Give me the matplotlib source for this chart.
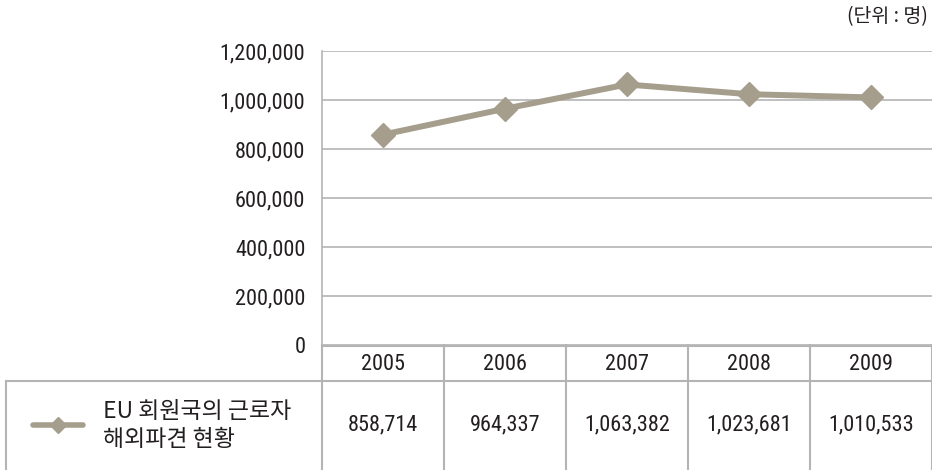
import matplotlib
matplotlib.use("Agg")
import matplotlib.pyplot as plt
from matplotlib.lines import Line2D
from matplotlib.ticker import FuncFormatter

years = ["2005", "2006", "2007", "2008", "2009"]
workers = [858714, 964337, 1063382, 1023681, 1010533]
series_label = ["EU 회원국의 근로자", "해외파견 현황"]
unit_label = "(단위 : 명)"
y_ticks = [0, 200000, 400000, 600000, 800000, 1000000, 1200000]

LINE_COLOR = "#a59e8c"
GRID_COLOR = "#b4b4b4"
TEXT_COLOR = "#231f20"
NUM_FONT = ["Roboto Condensed", "Archivo Narrow", "DejaVu Sans"]
KR_FONT = ["Noto Sans CJK KR", "DejaVu Sans"]

W, H = 932, 470


def fx(px):
    return px / W


def fy(py):
    return 1 - py / H


def main():
    fig = plt.figure(figsize=(W / 100, H / 100), dpi=100)

    # plot area in pixels: x 322..932, y 51..345
    left, right, top, bottom = 322, 932, 51, 345
    ax = fig.add_axes([fx(left), fy(bottom), fx(right - left), (bottom - top) / H])
    x = list(range(len(years)))
    ax.plot(x, workers, color=LINE_COLOR, lw=4.3, marker="D", ms=12,
            mfc=LINE_COLOR, mec=LINE_COLOR, zorder=3, clip_on=False)
    ax.set_xlim(-0.5, len(years) - 0.5)
    ax.set_ylim(0, 1200000)
    ax.set_yticks(y_ticks)
    ax.yaxis.set_major_formatter(FuncFormatter(lambda v, p: f"{int(v):,}"))
    ax.set_xticks([])
    ax.grid(axis="y", color=GRID_COLOR, lw=1.2)
    ax.set_axisbelow(True)
    for s in ["top", "right", "bottom"]:
        ax.spines[s].set_visible(False)
    ax.spines["left"].set_color(GRID_COLOR)
    ax.spines["left"].set_linewidth(1.2)
    ax.tick_params(axis="y", length=0, pad=12, labelsize=16, labelcolor=TEXT_COLOR)
    for lab in ax.get_yticklabels():
        lab.set_family(NUM_FONT)

    # data table below the plot
    col_w = (right - left) / len(years)
    head_top, head_bot, row_bot = 345, 381, 470

    def hline(x0, x1, y):
        fig.add_artist(Line2D([fx(x0), fx(x1)], [fy(y), fy(y)], color=GRID_COLOR, lw=1.5))

    def vline(x0, y0, y1):
        fig.add_artist(Line2D([fx(x0), fx(x0)], [fy(y0), fy(y1)], color=GRID_COLOR, lw=1.5))

    hline(left, right, head_top + 1)
    hline(6, right, head_bot)
    vline(6, head_bot, row_bot)
    for i in range(len(years) + 1):
        vline(left + i * col_w, head_top, row_bot)

    for i, (yr, val) in enumerate(zip(years, workers)):
        cx = left + (i + 0.5) * col_w
        fig.text(fx(cx), fy((head_top + head_bot) / 2 + 1), yr, ha="center", va="center",
                 fontsize=16, family=NUM_FONT, color=TEXT_COLOR)
        fig.text(fx(cx), fy(425), f"{val:,}", ha="center", va="center",
                 fontsize=16, family=NUM_FONT, color=TEXT_COLOR)

    # legend key in the table row
    fig.add_artist(Line2D([fx(33), fx(83)], [fy(425), fy(425)], color=LINE_COLOR, lw=4,
                          solid_capstyle="round"))
    fig.add_artist(Line2D([fx(58)], [fy(425)], color=LINE_COLOR, marker="D", ms=8,
                          mfc=LINE_COLOR, mec=LINE_COLOR))
    fig.text(fx(103), fy(412), series_label[0], ha="left", va="center",
             fontsize=16.5, family=KR_FONT, color=TEXT_COLOR)
    fig.text(fx(103), fy(439), series_label[1], ha="left", va="center",
             fontsize=16.5, family=KR_FONT, color=TEXT_COLOR)

    fig.text(fx(928), fy(17), unit_label, ha="right", va="center",
             fontsize=14, family=KR_FONT, color=TEXT_COLOR)

    fig.savefig("out.png", dpi=100)


if __name__ == "__main__":
    main()
